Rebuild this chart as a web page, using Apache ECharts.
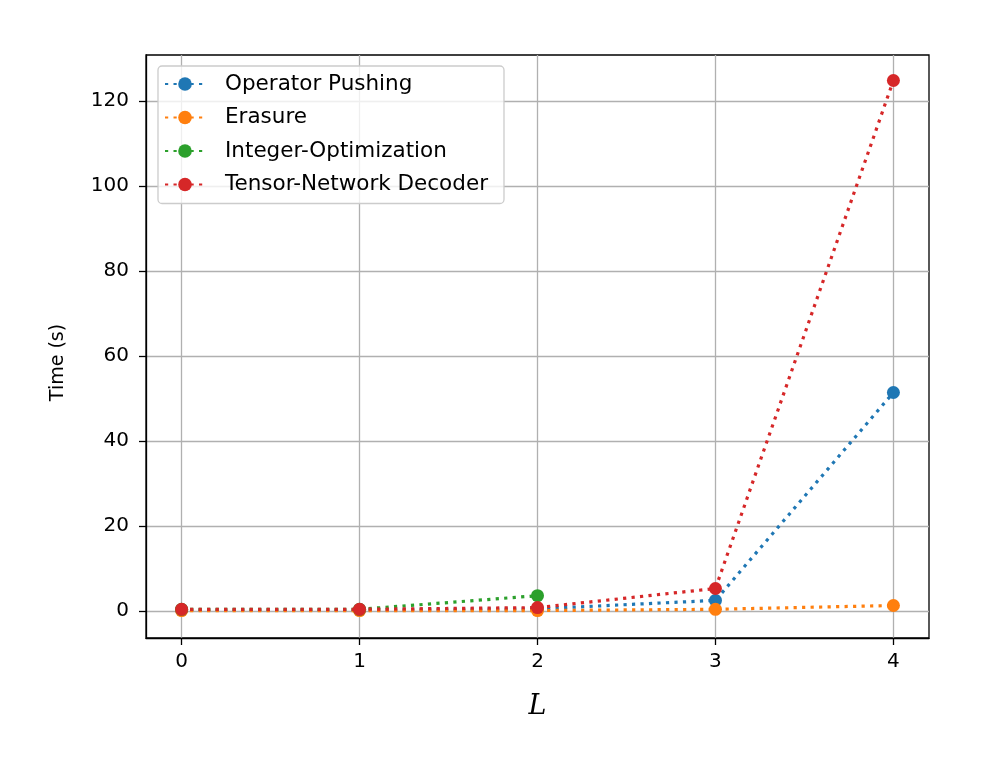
<!DOCTYPE html>
<html>
<head>
<meta charset="utf-8">
<script src="https://cdn.jsdelivr.net/npm/echarts@6/dist/echarts.min.js"></script>
<style>html,body{margin:0;padding:0;background:#fff}#c{width:996px;height:764px}</style>
</head>
<body>
<div id="c"></div>
<script>
const L = [0, 1, 2, 3, 4];
const operatorPushing = [0.3, 0.3, 0.5, 2.5, 51.4];
const erasure = [0.1, 0.1, 0.1, 0.4, 1.3];
const integerOptimization = [0.4, 0.4, 3.6];
const tensorNetwork = [0.4, 0.4, 0.8, 5.3, 124.8];
const xTicks = [0, 1, 2, 3, 4];
const yTicks = [0, 20, 40, 60, 80, 100, 120];
const seriesNames = ['Operator Pushing', 'Erasure', 'Integer-Optimization', 'Tensor-Network Decoder'];
const colors = ['#1f77b4', '#ff7f0e', '#2ca02c', '#d62728'];
const allData = [operatorPushing, erasure, integerOptimization, tensorNetwork];

const font = 'DejaVu Sans';
const chart = echarts.init(document.getElementById('c'), null, {renderer: 'canvas'});
const series = allData.map((vals, i) => ({
  name: seriesNames[i],
  type: 'line',
  data: vals.map((v, j) => [L[j], v]),
  symbol: 'circle',
  symbolSize: 13,
  color: colors[i],
  itemStyle: {color: colors[i]},
  lineStyle: {color: colors[i], width: 3.2, type: [3.2, 5.3]},
  z: 2 + i,
  animation: false
}));
chart.setOption({
  animation: false,
  grid: {left: 146, right: 67, top: 55, bottom: 126, show: true, borderColor: '#000', borderWidth: 1.3, backgroundColor: 'transparent'},
  legend: {
    orient: 'vertical', left: 158, top: 66,
    data: seriesNames,
    itemWidth: 40, itemHeight: 17, itemGap: 11.5,
    backgroundColor: 'rgba(255,255,255,0.8)',
    borderColor: '#ccc', borderWidth: 1.3, borderRadius: 4,
    padding: [7, 16, 8, 6],
    textStyle: {fontFamily: font, fontSize: 21.5, color: '#000', padding: [0, 0, 0, 15], lineHeight: 22}
  },
  xAxis: {
    type: 'value', min: -0.2, max: 4.2,
    name: 'L', nameLocation: 'middle', nameGap: 55,
    nameTextStyle: {fontFamily: 'DejaVu Serif', fontStyle: 'italic', fontSize: 27, color: '#000'},
    axisLine: {show: true, onZero: false, lineStyle: {color: '#000', width: 1.3}},
    axisTick: {show: true, inside: false, length: 7, customValues: xTicks, lineStyle: {color: '#000', width: 1.3}},
    axisLabel: {fontFamily: font, fontSize: 20, color: '#000', margin: 14, customValues: xTicks},
    splitLine: {show: true, lineStyle: {color: '#b0b0b0', width: 1.3}}
  },
  yAxis: {
    type: 'value', min: -6.35, max: 130.8,
    name: 'Time (s)', nameLocation: 'middle', nameGap: 78, nameRotate: 90,
    nameTextStyle: {fontFamily: font, fontSize: 19, color: '#000', padding: [0, 32, 0, 0]},
    axisLine: {show: true, onZero: false, lineStyle: {color: '#000', width: 1.3}},
    axisTick: {show: true, inside: false, length: 7, customValues: yTicks, lineStyle: {color: '#000', width: 1.3}},
    axisLabel: {fontFamily: font, fontSize: 20, color: '#000', margin: 17, customValues: yTicks},
    splitLine: {show: true, lineStyle: {color: '#b0b0b0', width: 1.3}}
  },
  series: series
});
</script>
</body>
</html>
